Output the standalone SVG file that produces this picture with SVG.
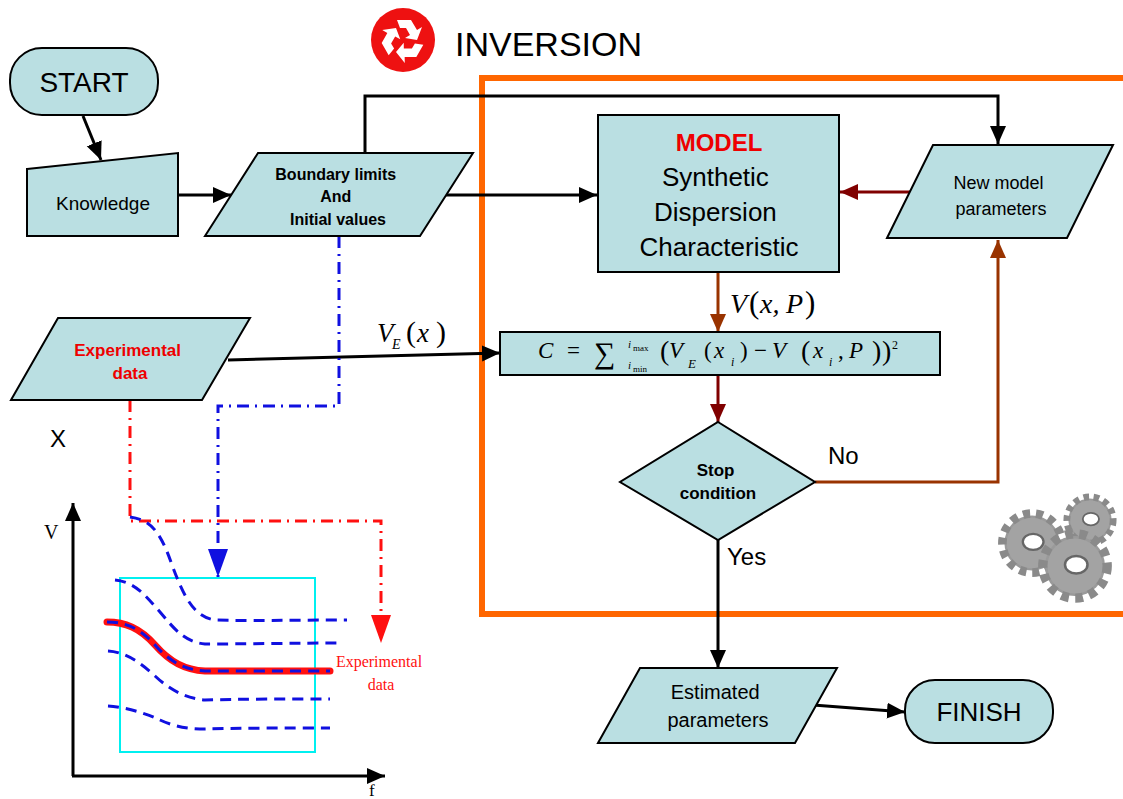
<svg xmlns="http://www.w3.org/2000/svg" width="1123" height="799" viewBox="0 0 1123 799">
  <style>
    .box { fill: #BADFE2; stroke: #000; stroke-width: 2; }
    .sans { font-family: "Liberation Sans", Arial, sans-serif; }
    .serif { font-family: "Liberation Serif", "Times New Roman", serif; }
    .it { font-family: "Liberation Serif", "Times New Roman", serif; font-style: italic; }
    .conn { fill: none; stroke-width: 3; }
    .curve { fill: none; stroke: #1010E0; stroke-width: 3; stroke-dasharray: 11 7; }
  </style>
  <defs>
    <marker id="ah-black" markerUnits="userSpaceOnUse" markerWidth="20" markerHeight="20" refX="18" refY="10" orient="auto">
      <path d="M0,2 L18,10 L0,18 Z" fill="#000"/>
    </marker>
    <marker id="ah-darkred" markerUnits="userSpaceOnUse" markerWidth="20" markerHeight="20" refX="18" refY="10" orient="auto">
      <path d="M0,2 L18,10 L0,18 Z" fill="#800000"/>
    </marker>
    <marker id="ah-brown" markerUnits="userSpaceOnUse" markerWidth="20" markerHeight="20" refX="18" refY="10" orient="auto">
      <path d="M0,2 L18,10 L0,18 Z" fill="#993300"/>
    </marker>
    <marker id="ah-blue" markerUnits="userSpaceOnUse" markerWidth="30" markerHeight="24" refX="28" refY="12" orient="auto">
      <path d="M0,2 L28,12 L0,22 Z" fill="#1010E0"/>
    </marker>
    <marker id="ah-red" markerUnits="userSpaceOnUse" markerWidth="30" markerHeight="24" refX="28" refY="12" orient="auto">
      <path d="M0,2 L28,12 L0,22 Z" fill="#FF1010"/>
    </marker>
    <g id="gear">
      <circle r="24" fill="#9A9A9A"/>
      <circle r="25" fill="none" stroke="#8A8A8A" stroke-width="9" stroke-dasharray="6 5"/>
      <circle r="22" fill="#A3A3A3"/>
      <ellipse cx="1" cy="-1" rx="9" ry="7" fill="#fff" stroke="#666" stroke-width="2"/>
    </g>
    <path id="recarrow" d="M-6,-20 L8,-20 L14,-10 L19,-13 L14,0 L2,-2 L7,-5 L3,-12 L-3,-12 Z" fill="#fff"/>
  </defs>

  <!-- inversion loop frame -->
  <rect x="482" y="78" width="700" height="536" fill="none" stroke="#FF6600" stroke-width="6"/>

  <!-- title with recycle emblem -->
  <g id="title">
    <circle cx="403" cy="40" r="32" fill="#EE1111"/>
    <use href="#recarrow" transform="translate(403,40)"/>
    <use href="#recarrow" transform="translate(403,40) rotate(120)"/>
    <use href="#recarrow" transform="translate(403,40) rotate(240)"/>
    <text x="455" y="56" class="sans" font-size="34">INVERSION</text>
  </g>

  <!-- gears -->
  <g id="gears">
    <use href="#gear" transform="translate(1032,543) scale(1.15)"/>
    <use href="#gear" transform="translate(1090,520) scale(0.9)"/>
    <use href="#gear" transform="translate(1075,566) scale(1.25)"/>
  </g>

  <!-- connectors -->
  <g id="connectors">
    <line class="conn" x1="83" y1="116" x2="101" y2="160" stroke="#000" marker-end="url(#ah-black)"/>
    <line class="conn" x1="178" y1="195" x2="231" y2="195" stroke="#000" marker-end="url(#ah-black)"/>
    <line class="conn" x1="446" y1="195" x2="597" y2="195" stroke="#000" marker-end="url(#ah-black)"/>
    <polyline class="conn" points="365,153 365,96 998,96 998,144" stroke="#000" marker-end="url(#ah-black)"/>
    <line class="conn" x1="910" y1="192" x2="840" y2="192" stroke="#800000" stroke-width="4" marker-end="url(#ah-darkred)"/>
    <line class="conn" x1="718" y1="272" x2="718" y2="332" stroke="#993300" stroke-width="4" marker-end="url(#ah-brown)"/>
    <line class="conn" x1="228" y1="360" x2="500" y2="353" stroke="#000" marker-end="url(#ah-black)"/>
    <line class="conn" x1="718" y1="375" x2="718" y2="422" stroke="#800000" stroke-width="4" marker-end="url(#ah-darkred)"/>
    <polyline class="conn" points="815,482 998,482 998,240" stroke="#993300" stroke-width="4" marker-end="url(#ah-brown)"/>
    <line class="conn" x1="718" y1="540" x2="718" y2="668" stroke="#000" marker-end="url(#ah-black)"/>
    <line class="conn" x1="813" y1="705" x2="905" y2="712" stroke="#000" marker-end="url(#ah-black)"/>
    <!-- data flows into the sketch -->
    <polyline class="conn" points="339,236 339,406 218,406 218,577" stroke="#1010E0" stroke-dasharray="12 6 2 6" marker-end="url(#ah-blue)"/>
    <polyline class="conn" points="130,400 130,521 381,521 381,643" stroke="#FF1010" stroke-dasharray="12 6 2 6" marker-end="url(#ah-red)"/>
  </g>

  <!-- connector labels -->
  <g id="labels">
    <text x="377" y="342" class="it" font-size="27">V</text>
    <text x="392" y="349" class="it" font-size="14">E</text>
    <text x="406" y="342" class="serif" font-size="30">(</text>
    <text x="417" y="342" class="it" font-size="27">x</text>
    <text x="436" y="342" class="serif" font-size="30">)</text>
    <text x="730" y="313" class="it" font-size="28">V</text>
    <text x="749" y="313" class="serif" font-size="31">(</text>
    <text x="760" y="313" class="it" font-size="28">x,</text>
    <text x="786" y="313" class="it" font-size="28">P</text>
    <text x="805" y="313" class="serif" font-size="31">)</text>
    <text x="828" y="464" class="sans" font-size="24">No</text>
    <text x="727" y="565" class="sans" font-size="24">Yes</text>
    <text x="50" y="447" class="sans" font-size="24">X</text>
  </g>

  <g id="start">
    <rect x="10" y="48" width="148" height="67" rx="32" class="box"/>
    <text x="84" y="92" class="sans" font-size="28" text-anchor="middle">START</text>
  </g>

  <g id="knowledge">
    <polygon points="27,169 178,153 178,236 27,236" class="box"/>
    <text x="103" y="210" class="sans" font-size="19" text-anchor="middle">Knowledge</text>
  </g>

  <g id="boundary">
    <polygon points="205,236 258,153 473,153 420,236" class="box"/>
    <text class="sans" font-size="16" font-weight="bold" text-anchor="middle">
      <tspan x="338" y="180">Boundary limits</tspan>
      <tspan x="338" y="202">And</tspan>
      <tspan x="338" y="225">Initial values</tspan>
    </text>
  </g>

  <g id="model">
    <rect x="598" y="115" width="241" height="157" class="box"/>
    <text x="719" y="151" class="sans" font-size="24" font-weight="bold" fill="#EE0000" text-anchor="middle">MODEL</text>
    <text class="sans" font-size="26" text-anchor="middle">
      <tspan x="719" y="186">Synthetic</tspan>
      <tspan x="719" y="221">Dispersion</tspan>
      <tspan x="719" y="256">Characteristic</tspan>
    </text>
  </g>

  <g id="new-params">
    <polygon points="887,238 933,145 1113,145 1067,238" class="box"/>
    <text class="sans" font-size="18" text-anchor="middle">
      <tspan x="1001" y="189">New model</tspan>
      <tspan x="1001" y="215">parameters</tspan>
    </text>
  </g>

  <g id="cost">
    <rect x="500" y="332" width="440" height="43" class="box"/>
    <text x="538" y="358" class="it" font-size="23">C</text>
    <text x="567" y="358" class="serif" font-size="23">=</text>
    <text x="594" y="363" class="serif" font-size="30">∑</text>
    <text x="628" y="348" class="it" font-size="11">i</text>
    <text x="633" y="351" class="serif" font-size="9">max</text>
    <text x="628" y="369" class="it" font-size="11">i</text>
    <text x="633" y="372" class="serif" font-size="9">min</text>
    <text x="660" y="360" class="serif" font-size="28">(</text>
    <text x="669" y="358" class="it" font-size="23">V</text>
    <text x="688" y="368" class="it" font-size="13">E</text>
    <text x="704" y="358" class="serif" font-size="23">(</text>
    <text x="714" y="358" class="it" font-size="23">x</text>
    <text x="731" y="366" class="it" font-size="12">i</text>
    <text x="740" y="358" class="serif" font-size="23">)</text>
    <text x="754" y="358" class="serif" font-size="23">−</text>
    <text x="772" y="358" class="it" font-size="23">V</text>
    <text x="801" y="360" class="serif" font-size="28">(</text>
    <text x="813" y="358" class="it" font-size="23">x</text>
    <text x="829" y="366" class="it" font-size="12">i</text>
    <text x="838" y="358" class="serif" font-size="23">,</text>
    <text x="849" y="358" class="it" font-size="23">P</text>
    <text x="872" y="360" class="serif" font-size="28">)</text>
    <text x="882" y="360" class="serif" font-size="28">)</text>
    <text x="892" y="349" class="serif" font-size="12">2</text>
  </g>

  <g id="stop">
    <polygon points="718,422 815,482 718,540 620,482" class="box"/>
    <text class="sans" font-size="17" font-weight="bold" text-anchor="middle">
      <tspan x="718" y="476">Stop</tspan>
      <tspan x="718" y="499">condition</tspan>
    </text>
  </g>

  <g id="estimated">
    <polygon points="598,743 640,668 837,668 795,743" class="box"/>
    <text class="sans" font-size="20" text-anchor="middle">
      <tspan x="718" y="699">Estimated</tspan>
      <tspan x="718" y="727">parameters</tspan>
    </text>
  </g>

  <g id="finish">
    <rect x="905" y="680" width="148" height="63" rx="30" class="box"/>
    <text x="979" y="721" class="sans" font-size="26" text-anchor="middle">FINISH</text>
  </g>

  <g id="experimental">
    <polygon points="11,400 58,318 250,318 202,400" class="box"/>
    <text class="sans" font-size="17" font-weight="bold" fill="#EE0000" text-anchor="middle">
      <tspan x="130" y="356">Experimental</tspan>
      <tspan x="130" y="379">data</tspan>
    </text>
  </g>

  <!-- dispersion sketch: V against f -->
  <g id="sketch">
    <line x1="73" y1="776" x2="73" y2="503" stroke="#000" stroke-width="3" marker-end="url(#ah-black)"/>
    <line x1="72" y1="776" x2="385" y2="776" stroke="#000" stroke-width="3" marker-end="url(#ah-black)"/>
    <text x="44" y="539" class="serif" font-size="20">V</text>
    <text x="369" y="796" class="serif" font-size="17">f</text>
    <rect x="120" y="578" width="195" height="174" fill="none" stroke="#00F0F0" stroke-width="2"/>
    <path class="curve" d="M130,517 C150,520 160,530 172,565 C185,600 195,617 215,620 C240,621 300,620 347,620"/>
    <path class="curve" d="M115,580 C135,582 145,595 160,612 C175,630 185,642 205,644 C240,644 300,643 338,643"/>
    <path d="M107,622 C125,622 140,628 155,645 C170,662 185,670 205,671 C240,671 290,671 330,671" fill="none" stroke="#FF1010" stroke-width="7" stroke-linecap="round"/>
    <path class="curve" d="M107,622 C125,622 140,628 155,645 C170,662 185,670 205,671 C240,671 290,671 330,671"/>
    <path class="curve" d="M108,651 C125,652 140,662 155,676 C170,690 185,698 205,700 C240,699 290,699 330,699"/>
    <path class="curve" d="M108,706 C125,707 145,713 160,720 C175,727 190,729 205,729 C240,728 290,728 330,728"/>
    <text class="serif" font-size="16" fill="#FF1010" text-anchor="middle">
      <tspan x="381" y="667">Experimental</tspan>
      <tspan x="381" y="690">data</tspan>
    </text>
  </g>
</svg>
